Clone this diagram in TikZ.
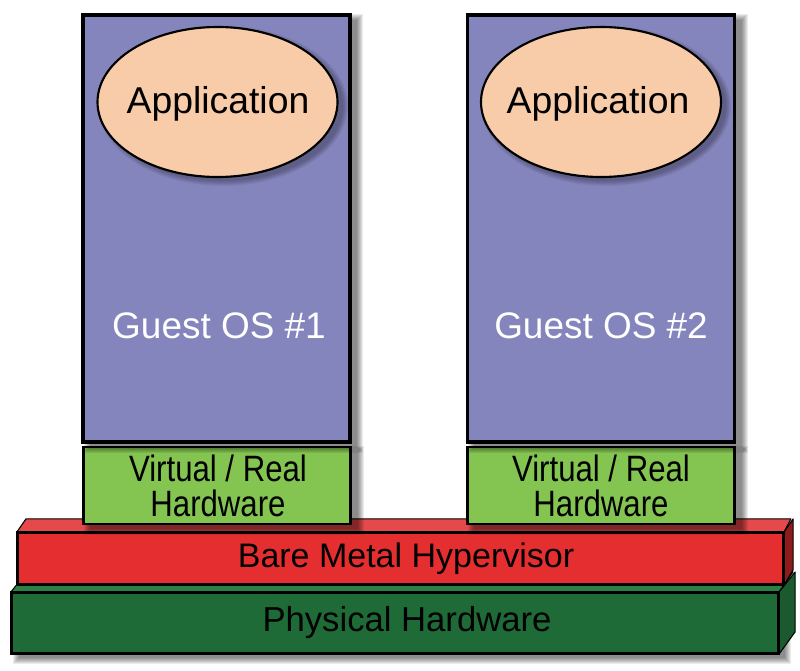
\documentclass[tikz,border=0pt]{standalone}
\usepackage{fontspec}
\setmainfont{Liberation Sans}
\usetikzlibrary{shapes.geometric}
\definecolor{guestfill}{HTML}{8585BD}
\definecolor{appfill}{HTML}{F8CBA9}
\definecolor{vhwfill}{HTML}{84C551}
\definecolor{redfront}{HTML}{E52E2F}
\definecolor{redtop}{HTML}{E5494C}
\definecolor{redside}{HTML}{8E1A1B}
\definecolor{grnfront}{HTML}{1F6B37}
\definecolor{grntop}{HTML}{2A8247}
\definecolor{grnside}{HTML}{1A5A2E}
\newcommand\softshadow[4]{\foreach \k in {0,...,6}{\fill[black,opacity=0.08] (#1+7-\k,#2+5-\k) rectangle (#3+7+\k,#4+5+\k);}}
\tikzset{
  guestbox/.style={draw=black, line width=2.5pt, fill=guestfill, minimum width=200.25pt, minimum height=320.25pt, inner sep=0pt},
  appell/.style={ellipse, draw=black, line width=1.6pt, fill=appfill, minimum width=180pt, minimum height=112.5pt, inner sep=0pt},
  vhwbox/.style={draw=black, line width=1.6pt, fill=vhwfill, minimum width=200.25pt, minimum height=57.75pt, inner sep=0pt},
  slabface/.style={draw=black, line width=1.6pt, inner sep=0pt},
  slabedge/.style={draw=black, line width=0.8pt, line join=round},
  apptext/.style={font=\fontsize{28}{33}\selectfont, text=black, anchor=base, inner sep=0pt},
  guesttext/.style={font=\fontsize{27.7}{32}\selectfont, text=white, anchor=base, inner sep=0pt},
  vhwtext/.style={font=\fontsize{27.5}{26.25}\selectfont, text=black, align=center, inner sep=0pt},
  slabtext/.style={text=black, anchor=base, inner sep=0pt}
}
\begin{document}
\begin{tikzpicture}[x=0.75pt,y=-0.75pt]
\useasboundingbox (0,0) rectangle (800,671);
\fill[white] (0,0) rectangle (800,671);

% ---- Physical hardware slab
\softshadow{12}{593}{778}{653}
\node[slabface, fill=grnfront, minimum width=574.5pt, minimum height=45pt] (phys) at (395,623) {};
\draw[slabedge, fill=grntop] (phys.north west) -- ++(16,-20) -- ++(766,0) -- (phys.north east) -- cycle;
\draw[slabedge, fill=grnside] (phys.north east) -- ++(16,-20) -- ++(0,60) -- (phys.south east) -- cycle;
\draw[line width=1.6pt] (phys.north west) rectangle (phys.south east);
\node[slabtext, font=\fontsize{26}{30}\selectfont] (physlbl) at (407,631) {Physical Hardware};

% ---- Hypervisor slab
\node[slabface, fill=redfront, minimum width=573.75pt, minimum height=38.25pt] (hyp) at (400.5,558.5) {};
\draw[slabedge, fill=redtop] (hyp.north west) -- ++(9,-13) -- ++(765,0) -- (hyp.north east) -- cycle;
\draw[slabedge, fill=redside] (hyp.north east) -- ++(9,-13) -- ++(0,51) -- (hyp.south east) -- cycle;
\draw[line width=1.6pt] (hyp.north west) rectangle (hyp.south east);
\node[slabtext, font=\fontsize{25.5}{30}\selectfont] (hyplbl) at (406,567) {Bare Metal Hypervisor};

% ---- Virtual / Real hardware boxes
\softshadow{83}{447}{351}{524}
\softshadow{467}{447}{735}{524}
\node[vhwbox] (vhw1) at (217,485.5) {};
\node[vhwbox] (vhw2) at (601,485.5) {};
\node[vhwtext] (vhw1lbl) at (218,486) {\scalebox{0.85}[1]{Virtual / Real}\\\scalebox{0.85}[1]{Hardware}};
\node[vhwtext] (vhw2lbl) at (601,486) {\scalebox{0.85}[1]{Virtual / Real}\\\scalebox{0.85}[1]{Hardware}};

% ---- Guest OS boxes
\softshadow{83}{15}{350}{442}
\softshadow{467}{15}{735}{442}
\node[guestbox] (guest1) at (216.5,228.5) {};
\node[guestbox] (guest2) at (601,228.5) {};
\node[guesttext] (guest1lbl) at (219,338) {Guest OS \#1};
\node[guesttext] (guest2lbl) at (601,338) {Guest OS \#2};

% ---- Application ellipses
\foreach \k in {0,...,5}{\fill[black,opacity=0.05] (223,106) ellipse ({120+\k} and {75+\k});}
\foreach \k in {0,...,5}{\fill[black,opacity=0.05] (606,106) ellipse ({120+\k} and {75+\k});}
\node[appell] (app1) at (217.5,102) {};
\node[appell] (app2) at (601,102) {};
\node[apptext] (app1lbl) at (218,113) {Application};
\node[apptext] (app2lbl) at (598,113) {Application};
\end{tikzpicture}
\end{document}
